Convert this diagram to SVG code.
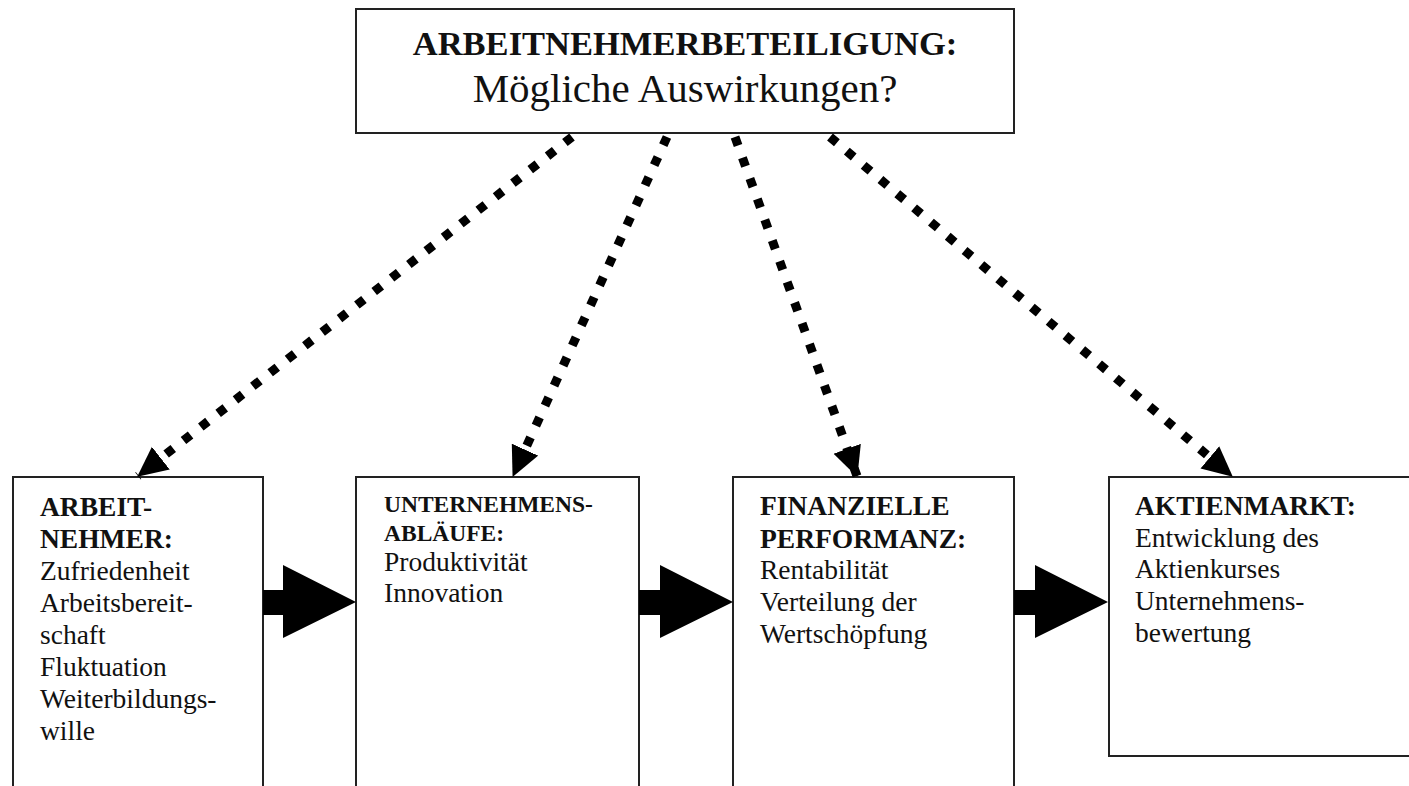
<svg xmlns="http://www.w3.org/2000/svg" width="1409" height="786" viewBox="0 0 1409 786">
<style>
.box{fill:#fff;stroke:#222;stroke-width:2}
.b{font-family:"Liberation Serif","Times New Roman",serif;font-weight:bold;fill:#111}
.r{font-family:"Liberation Serif","Times New Roman",serif;fill:#111}
.dot{fill:none;stroke:#000;stroke-width:9;stroke-dasharray:9 13;marker-end:url(#ah)}
.blk{fill:#000}
</style>
<defs>
<marker id="ah" markerUnits="userSpaceOnUse" markerWidth="30" markerHeight="30" viewBox="0 0 29 28" refX="28" refY="14" orient="auto">
<path d="M0,0 L29,14 L0,28 z" fill="#000"/>
</marker>
</defs>
<rect width="1409" height="786" fill="#fff"/>
<g id="top">
<rect class="box" x="356" y="9" width="658" height="124"/>
<text class="b" x="685" y="55" font-size="34.5" text-anchor="middle">ARBEITNEHMERBETEILIGUNG:</text>
<text class="r" x="685" y="102" font-size="41" text-anchor="middle">Mögliche Auswirkungen?</text>
</g>
<g id="arbeitnehmer">
<rect class="box" x="13" y="477" width="250" height="320"/>
<text class="b" font-size="27.5"><tspan x="40" y="516">ARBEIT-</tspan><tspan x="40" y="548">NEHMER:</tspan></text>
<text class="r" font-size="27.5"><tspan x="40" y="580">Zufriedenheit</tspan><tspan x="40" y="612">Arbeitsbereit-</tspan><tspan x="40" y="644">schaft</tspan><tspan x="40" y="676">Fluktuation</tspan><tspan x="40" y="708">Weiterbildungs-</tspan><tspan x="40" y="740">wille</tspan></text>
</g>
<g id="ablaeufe">
<rect class="box" x="356" y="477" width="283" height="320"/>
<text class="b" font-size="23.5"><tspan x="384" y="512">UNTERNEHMENS-</tspan><tspan x="384" y="541">ABLÄUFE:</tspan></text>
<text class="r" font-size="27.5"><tspan x="384" y="571">Produktivität</tspan><tspan x="384" y="602">Innovation</tspan></text>
</g>
<g id="finanziell">
<rect class="box" x="733" y="477" width="281" height="320"/>
<text class="b" font-size="27.5"><tspan x="760" y="515">FINANZIELLE</tspan><tspan x="760" y="548">PERFORMANZ:</tspan></text>
<text class="r" font-size="27.5"><tspan x="760" y="579">Rentabilität</tspan><tspan x="760" y="611">Verteilung der</tspan><tspan x="760" y="643">Wertschöpfung</tspan></text>
</g>
<g id="aktienmarkt">
<rect class="box" x="1109" y="477" width="310" height="279"/>
<text class="b" font-size="27.5"><tspan x="1135" y="515">AKTIENMARKT:</tspan></text>
<text class="r" font-size="27.5"><tspan x="1135" y="547">Entwicklung des</tspan><tspan x="1135" y="578">Aktienkurses</tspan><tspan x="1135" y="610">Unternehmens-</tspan><tspan x="1135" y="642">bewertung</tspan></text>
</g>
<g id="connectors">
<path class="dot" d="M572,137 L138,476"/>
<path class="dot" d="M667,137 L513,476"/>
<path class="dot" d="M735,137 L857,476"/>
<path class="dot" d="M830,137 L1232,476"/>
<path class="blk" d="M263,590 L283,590 L283,565 L356,602 L283,638 L283,615 L263,615 Z"/>
<path class="blk" d="M639,590 L660,590 L660,565 L733,602 L660,638 L660,615 L639,615 Z"/>
<path class="blk" d="M1014,590 L1035,590 L1035,565 L1108,602 L1035,638 L1035,615 L1014,615 Z"/>
</g>
</svg>
